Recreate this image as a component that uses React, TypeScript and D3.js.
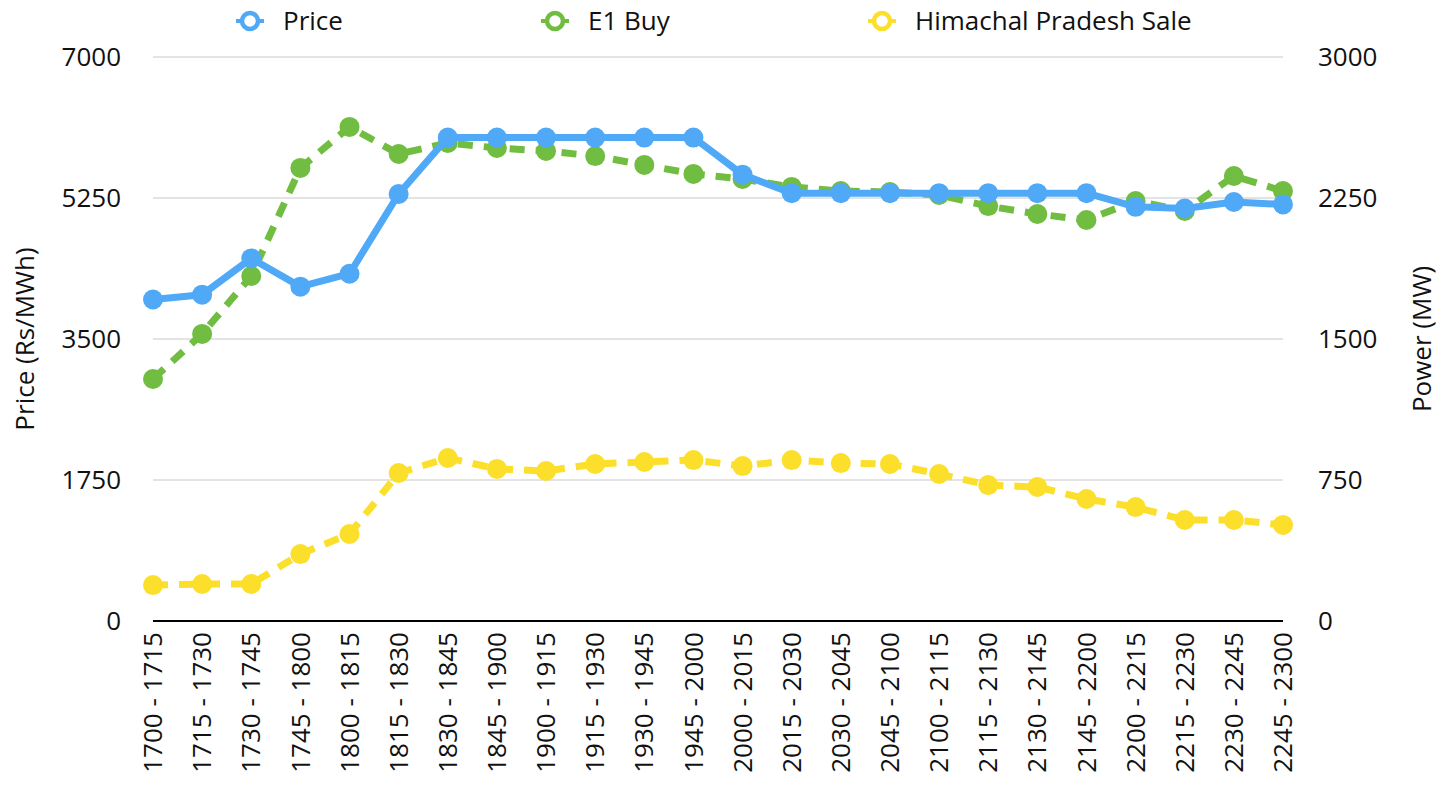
import React from 'react';
import * as d3 from 'd3';

const categories = [
  '1700 - 1715', '1715 - 1730', '1730 - 1745', '1745 - 1800', '1800 - 1815', '1815 - 1830',
  '1830 - 1845', '1845 - 1900', '1900 - 1915', '1915 - 1930', '1930 - 1945', '1945 - 2000',
  '2000 - 2015', '2015 - 2030', '2030 - 2045', '2045 - 2100', '2100 - 2115', '2115 - 2130',
  '2130 - 2145', '2145 - 2200', '2200 - 2215', '2215 - 2230', '2230 - 2245', '2245 - 2300',
];

// Rs/MWh, left axis
const price = [
  3990, 4050, 4500, 4150, 4310, 5300, 6000, 6000, 6000, 6000, 6000, 6000,
  5540, 5310, 5310, 5310, 5310, 5310, 5310, 5310, 5140, 5120, 5200, 5170,
];

// MW, right axis
const e1Buy = [
  1287, 1527, 1835, 2410, 2628, 2484, 2543, 2516, 2500, 2473, 2426, 2378,
  2351, 2309, 2287, 2282, 2266, 2207, 2165, 2133, 2234, 2181, 2367, 2287,
];

const himachalSale = [
  191, 197, 197, 356, 463, 787, 867, 809, 798, 835, 846, 856,
  824, 856, 840, 835, 782, 723, 713, 649, 606, 537, 537, 511,
];

const leftTicks = [0, 1750, 3500, 5250, 7000];
const rightTicks = [0, 750, 1500, 2250, 3000];

const W = 1448;
const H = 785;
const FONT = '"Open Sans", "Noto Sans", sans-serif';
const FS = 26;

const BLUE = '#4fa9f7';
const GREEN = '#70bd41';
const YELLOW = '#fbdf2b';

const x = d3.scalePoint<string>().domain(categories).range([153, 1283]);
const yLeft = d3.scaleLinear().domain([0, 7000]).range([621, 57]);
const yRight = d3.scaleLinear().domain([0, 3000]).range([621, 57]);

const series = [
  { name: 'Himachal Pradesh Sale', values: himachalSale, y: yRight, color: YELLOW, dash: '15,11' },
  { name: 'E1 Buy', values: e1Buy, y: yRight, color: GREEN, dash: '15,11' },
  { name: 'Price', values: price, y: yLeft, color: BLUE, dash: null },
];

const legend = [
  { name: 'Price', color: BLUE, x: 250 },
  { name: 'E1 Buy', color: GREEN, x: 555 },
  { name: 'Himachal Pradesh Sale', color: YELLOW, x: 882 },
];

export default function App() {
  return (
    <div style={{ position: 'absolute', left: 0, top: 0 }}>
      <svg width={W} height={H} style={{ display: 'block', fontFamily: FONT }}>
        <rect width={W} height={H} fill="#fff" />

        {/* grid */}
        {leftTicks.filter((t) => t > 0).map((t) => (
          <line key={t} x1={153} x2={1283} y1={yLeft(t)} y2={yLeft(t)} stroke="#c8c8c8" strokeWidth={1} />
        ))}
        <line x1={153} x2={1283} y1={yLeft(0)} y2={yLeft(0)} stroke="#000" strokeWidth={2} />

        {/* left ticks */}
        {leftTicks.map((t) => (
          <text key={t} x={121} y={yLeft(t)} dy="0.35em" textAnchor="end" fontSize={FS} fill="#111">{t}</text>
        ))}
        {/* right ticks */}
        {rightTicks.map((t) => (
          <text key={t} x={1318} y={yRight(t)} dy="0.35em" textAnchor="start" fontSize={FS} fill="#111">{t}</text>
        ))}

        {/* x labels */}
        {categories.map((c) => (
          <text key={c} transform={`translate(${x(c)},632) rotate(-90)`} dy="0.35em" textAnchor="end" fontSize={FS} fill="#111">{c}</text>
        ))}

        {/* axis titles */}
        <text transform="translate(34,339) rotate(-90)" textAnchor="middle" fontSize={FS} fill="#111">Price (Rs/MWh)</text>
        <text transform="translate(1431,339) rotate(-90)" textAnchor="middle" fontSize={FS} fill="#111">Power (MW)</text>

        {/* series */}
        {series.map((s) => {
          const line = d3.line<number>()
            .x((_, i) => x(categories[i]) as number)
            .y((d) => s.y(d));
          return (
            <g key={s.name}>
              <path d={line(s.values) || ''} fill="none" stroke={s.color} strokeWidth={7}
                strokeDasharray={s.dash || undefined} strokeLinejoin="round" />
              {s.values.map((v, i) => (
                <circle key={i} cx={x(categories[i])} cy={s.y(v)} r={10} fill={s.color} />
              ))}
            </g>
          );
        })}

        {/* legend */}
        {legend.map((l) => (
          <g key={l.name} transform={`translate(${l.x},21)`}>
            <line x1={-14} x2={14} y1={0} y2={0} stroke={l.color} strokeWidth={4} />
            <circle r={8} fill="#fff" stroke={l.color} strokeWidth={4.5} />
            <text x={33} dy="0.35em" fontSize={FS} fill="#111">{l.name}</text>
          </g>
        ))}
      </svg>
    </div>
  );
}
